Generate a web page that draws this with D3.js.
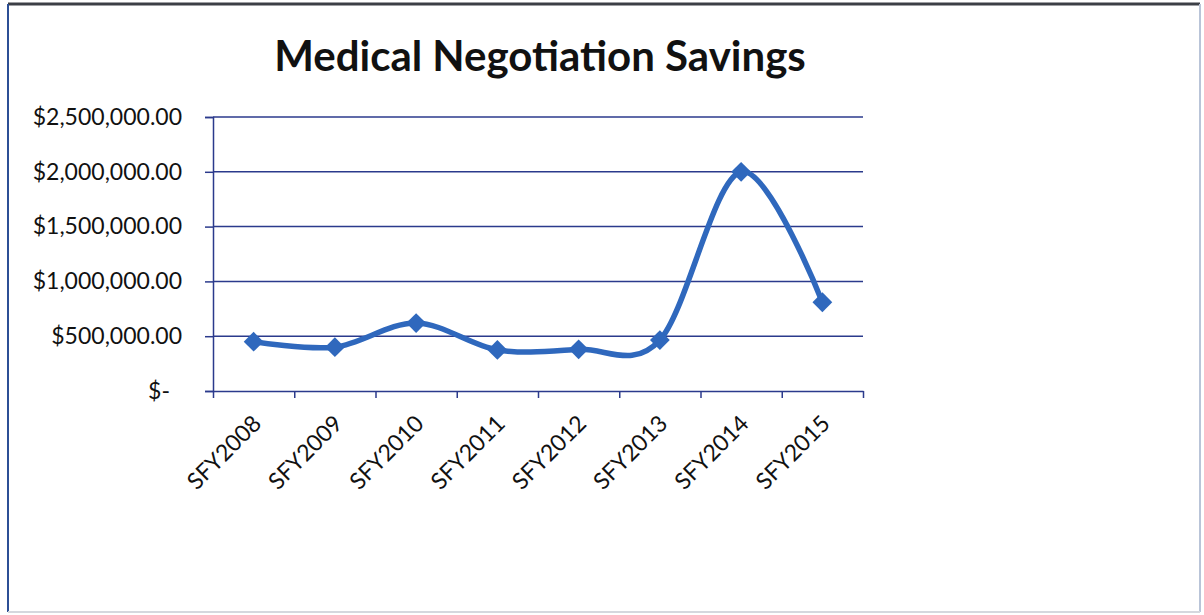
<!DOCTYPE html>
<html>
<head>
<meta charset="utf-8">
<script src="https://cdn.jsdelivr.net/npm/d3@7"></script>
<style>
  body { margin: 0; background: #fff; }
  svg { display: block; }
</style>
</head>
<body>
<div id="chart"></div>
<script>
// data
var years = ["SFY2008", "SFY2009", "SFY2010", "SFY2011", "SFY2012", "SFY2013", "SFY2014", "SFY2015"];
var savings = [450000, 400000, 620000, 375000, 380000, 465000, 2000000, 810000];
var yTicks = [0, 500000, 1000000, 1500000, 2000000, 2500000];
var title = "Medical Negotiation Savings";

var width = 1204, height = 615,
    plot = {left: 213, right: 863, top: 117, bottom: 391},
    lineColor = "#2f68bd",
    gridColor = "#2b3a8c";

var svg = d3.select("#chart").append("svg")
    .attr("width", width)
    .attr("height", height);

svg.append("rect")
    .attr("width", width).attr("height", height)
    .attr("fill", "#fff");

// frame round the chart
svg.append("line").attr("x1", 8).attr("x2", 1200).attr("y1", 4).attr("y2", 4)
    .attr("stroke", "#3c3f46").attr("stroke-width", 3);
svg.append("line").attr("x1", 8).attr("x2", 8).attr("y1", 4).attr("y2", 612)
    .attr("stroke", "#2c4f95").attr("stroke-width", 2);
svg.append("line").attr("x1", 1200).attr("x2", 1200).attr("y1", 4).attr("y2", 612)
    .attr("stroke", "#b9c4d8").attr("stroke-width", 2);
svg.append("line").attr("x1", 8).attr("x2", 1200).attr("y1", 612).attr("y2", 612)
    .attr("stroke", "#d5d8de").attr("stroke-width", 2);

var x = d3.scaleBand()
    .domain(years)
    .range([plot.left, plot.right])
    .paddingInner(0).paddingOuter(0);

var xEdge = d3.scaleLinear()
    .domain([0, years.length])
    .range([plot.left, plot.right]);

var y = d3.scaleLinear()
    .domain([0, 2500000])
    .range([plot.bottom, plot.top]);

var money = d3.format("$,.2f");

// title
svg.append("text")
    .attr("x", 540)
    .attr("y", 71)
    .attr("text-anchor", "middle")
    .attr("font-family", "Lato, 'Open Sans', sans-serif")
    .attr("font-weight", "bold")
    .attr("font-size", 42)
    .attr("fill", "#111")
    .text(title);

// gridlines
svg.append("g")
    .selectAll("line")
    .data(yTicks.filter(function(d) { return d > 0; }))
    .enter().append("line")
    .attr("x1", plot.left).attr("x2", plot.right)
    .attr("y1", function(d) { return y(d); })
    .attr("y2", function(d) { return y(d); })
    .attr("stroke", gridColor)
    .attr("stroke-width", 1.5);

// y axis
var yAxis = svg.append("g")
    .attr("transform", "translate(" + plot.left + ",0)")
    .call(d3.axisLeft(y)
        .tickValues(yTicks)
        .tickSize(8)
        .tickPadding(23)
        .tickFormat(function(d) { return d === 0 ? "$-" : money(d); }));
yAxis.select(".domain").attr("stroke", gridColor).attr("stroke-width", 1.5);
yAxis.selectAll(".tick line").attr("stroke", gridColor).attr("stroke-width", 1.5);
yAxis.selectAll(".tick text")
    .attr("font-family", "Lato, 'Open Sans', sans-serif")
    .attr("font-size", 23)
    .attr("fill", "#111")
    .attr("dx", function(d) { return d === 0 ? -12 : 0; });

// x axis, ticks between categories
var xAxis = svg.append("g")
    .attr("transform", "translate(0," + plot.bottom + ")")
    .call(d3.axisBottom(xEdge)
        .tickValues(d3.range(years.length + 1))
        .tickSize(7)
        .tickSizeOuter(0)
        .tickFormat(""));
xAxis.select(".domain").attr("stroke", gridColor).attr("stroke-width", 1.5);
xAxis.selectAll(".tick line").attr("stroke", gridColor).attr("stroke-width", 1.5);

svg.append("g")
    .selectAll("text")
    .data(years)
    .enter().append("text")
    .attr("transform", function(d) {
        return "translate(" + (x(d) + x.bandwidth() / 2 + 9) + "," + (plot.bottom + 34) + ") rotate(-45)";
    })
    .attr("text-anchor", "end")
    .attr("font-family", "Lato, 'Open Sans', sans-serif")
    .attr("font-size", 23)
    .attr("fill", "#111")
    .text(function(d) { return d; });

// smoothed line
var line = d3.line()
    .x(function(d, i) { return x(years[i]) + x.bandwidth() / 2; })
    .y(function(d) { return y(d); })
    .curve(d3.curveCatmullRom.alpha(0));

svg.append("path")
    .datum(savings)
    .attr("d", line)
    .attr("fill", "none")
    .attr("stroke", lineColor)
    .attr("stroke-width", 5.5)
    .attr("stroke-linejoin", "round");

svg.append("g")
    .selectAll("path")
    .data(savings)
    .enter().append("path")
    .attr("d", d3.symbol().type(d3.symbolDiamond2).size(250))
    .attr("transform", function(d, i) {
        return "translate(" + (x(years[i]) + x.bandwidth() / 2) + "," + y(d) + ")";
    })
    .attr("fill", lineColor);
</script>
</body>
</html>
